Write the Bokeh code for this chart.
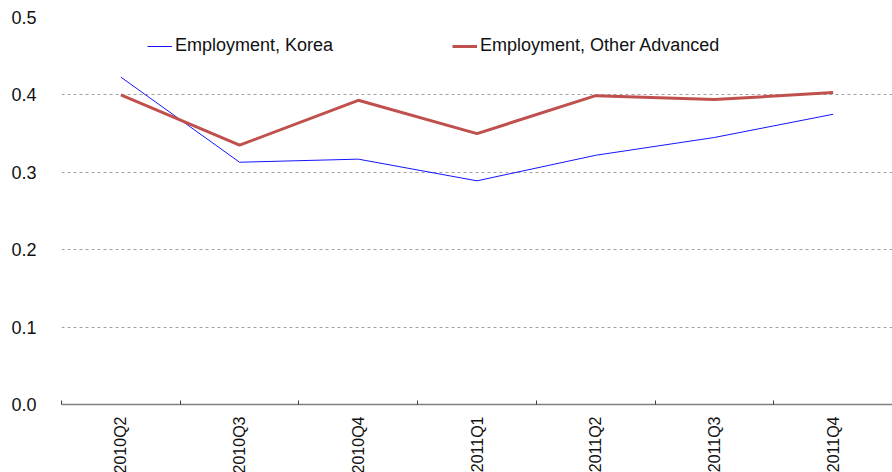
from math import pi
from bokeh.plotting import figure
from bokeh.models import (Range1d, LinearAxis, FixedTicker,
                          NumeralTickFormatter, Legend, LegendItem, ColumnDataSource)
from bokeh.embed import file_html
from bokeh.resources import INLINE

quarters = ["2010Q2", "2010Q3", "2010Q4", "2011Q1", "2011Q2", "2011Q3", "2011Q4"]
korea = [0.423, 0.313, 0.317, 0.289, 0.322, 0.345, 0.375]
other_adv = [0.400, 0.335, 0.393, 0.350, 0.399, 0.394, 0.403]
y_ticks = [0.0, 0.1, 0.2, 0.3, 0.4, 0.5]

n = len(quarters)
centers = [i + 0.5 for i in range(n)]
boundaries = list(range(n + 1))

FONT = "Liberation Sans"

p = figure(x_range=Range1d(0, n), y_range=Range1d(0, 0.5),
           frame_width=831, frame_height=387,
           min_border_left=61, min_border_right=0, min_border_top=17, min_border_bottom=0,
           x_axis_location=None, y_axis_location="left",
           output_backend="svg", toolbar_location=None,
           background_fill_color="white", border_fill_color="white")
p.outline_line_color = None
p.xgrid.grid_line_color = None
p.ygrid.ticker = FixedTicker(ticks=y_ticks)
p.ygrid.grid_line_color = "#a0a0a0"
p.ygrid.grid_line_dash = "3 3"
p.ygrid.grid_line_width = 1

ya = p.yaxis[0]
ya.ticker = FixedTicker(ticks=y_ticks)
ya.formatter = NumeralTickFormatter(format="0.0")
ya.axis_line_color = None
ya.major_tick_line_color = None
ya.minor_tick_line_color = None
ya.major_label_standoff = 19
ya.major_label_text_font = FONT
ya.major_label_text_font_size = "18px"
ya.major_label_text_color = "#111111"

x_axis = LinearAxis(ticker=FixedTicker(ticks=centers, minor_ticks=boundaries),
                    major_label_overrides={c: q for c, q in zip(centers, quarters)},
                    axis_line_color="#808080", axis_line_width=1.5,
                    major_tick_line_color=None, major_tick_in=0, major_tick_out=0,
                    minor_tick_line_color="#404040", minor_tick_in=4, minor_tick_out=0,
                    major_label_orientation=pi / 2, major_label_standoff=12,
                    major_label_text_font=FONT, major_label_text_font_size="16px",
                    major_label_text_color="#111111")
p.add_layout(x_axis, "below")

src = ColumnDataSource(dict(x=centers, korea=korea, other=other_adv))
r1 = p.line("x", "korea", source=src, line_color="#1414ff", line_width=1)
r2 = p.line("x", "other", source=src, line_color="#c0504d", line_width=3)

legend = Legend(items=[LegendItem(label="Employment, Korea", renderers=[r1]),
                       LegendItem(label="Employment, Other Advanced", renderers=[r2])],
                orientation="horizontal", location=(86, 348),
                padding=0, margin=0, spacing=119, glyph_width=25, glyph_height=20,
                label_standoff=3, label_text_font=FONT, label_text_font_size="18px",
                label_text_color="#111111", border_line_color=None,
                background_fill_alpha=0)
p.add_layout(legend, "center")

open("out.html", "w").write(file_html(p, INLINE))
